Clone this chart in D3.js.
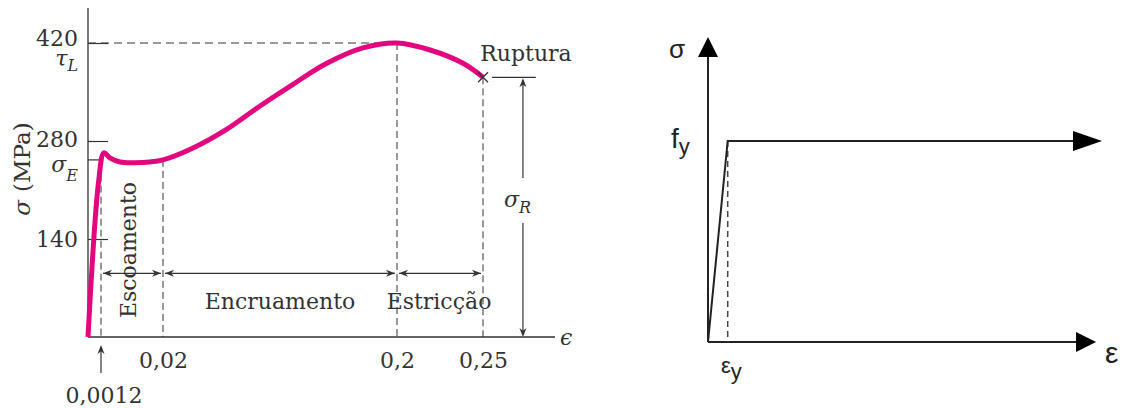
<!DOCTYPE html>
<html>
<head>
<meta charset="utf-8">
<script src="https://cdn.jsdelivr.net/npm/d3@7"></script>
<style>
  html, body { margin: 0; padding: 0; background: #fff; }
  svg { display: block; }
</style>
</head>
<body>
<svg id="chart" width="1126" height="408"></svg>
<script>
// ---- Left panel: engineering stress–strain curve of a ductile steel ----
// strain (mm/mm) and stress (MPa) along the curve
const strain = [0, 0.0010, 0.0021, 0.0039, 0.0070, 0.0115, 0.0160, 0.02, 0.0431, 0.0692, 0.0946, 0.120, 0.146, 0.1738, 0.2, 0.2192, 0.2384, 0.25];
const stress = [0, 225, 263, 256, 250, 249, 250, 253, 270, 297, 330, 361, 391, 413, 420, 410, 391, 371];

const yTicks = [140, 280, 420];
const xTicks = [0.02, 0.2, 0.25];
const xTickLabels = ["0,02", "0,2", "0,25"];
const yieldStrain = 0.0012, yieldStrainLabel = "0,0012";
const sigmaE = 253;     // yield stress
const tauL = 420;       // ultimate stress
const sigmaR = 371;     // rupture stress
const stageBounds = [0.0012, 0.02, 0.2, 0.25];
const stageNames = ["Escoamento", "Encruamento", "Estricção"];

// ---- Right panel: idealised elastic–perfectly plastic model ----
const modelStrain = [0, 1, 20];
const modelStress = [0, 1, 1];
const epsY = 1, fy = 1;

const svg = d3.select("#chart");
const ink = "#333";
const serif = "DejaVu Serif, serif";
const sans = "Liberation Sans, Arial, sans-serif";

// The strain axis is schematic: each region gets its own stretch.
const xL = d3.scaleLinear()
  .domain([0, 0.0012, 0.02, 0.2, 0.25, 0.292])
  .range([88, 101, 163, 397, 483, 555]);
const yL = d3.scaleLinear().domain([0, 470]).range([337, 8]);

const left = svg.append("g");

// arrowhead helper (notched head), tip at (x,y), angle in degrees
function head(g, x, y, angle, len = 9, half = 3.5, fill = ink) {
  g.append("path")
    .attr("d", `M0,0 L${-len},${-half} L${-len * 0.7},0 L${-len},${half} Z`)
    .attr("transform", `translate(${x},${y}) rotate(${angle})`)
    .attr("fill", fill);
}

// dashed guides
const dash = "7,4";
left.append("line")
  .attr("x1", xL(0)).attr("x2", xL(0.2))
  .attr("y1", yL(tauL)).attr("y2", yL(tauL))
  .attr("stroke", ink).attr("stroke-width", 1).attr("stroke-dasharray", "8,5");

const stressAt = s => {
  const i = d3.bisectLeft(strain, s);
  if (strain[i] === s) return stress[i];
  const t = (s - strain[i - 1]) / (strain[i] - strain[i - 1]);
  return stress[i - 1] + t * (stress[i] - stress[i - 1]);
};
left.selectAll("line.guide")
  .data(stageBounds)
  .join("line")
  .attr("class", "guide")
  .attr("x1", d => xL(d)).attr("x2", d => xL(d))
  .attr("y1", d => yL(stressAt(d))).attr("y2", yL(0))
  .attr("stroke", ink).attr("stroke-width", 1).attr("stroke-dasharray", dash);

// y axis with inward ticks
const yAxis = d3.axisLeft(yL).tickValues(yTicks).tickSize(-20).tickSizeOuter(0).tickPadding(10);
const gy = left.append("g").attr("transform", `translate(${xL(0)},0)`).call(yAxis);
gy.select(".domain").remove();
gy.selectAll(".tick line").attr("stroke", ink).attr("stroke-width", 1.2);
gy.selectAll(".tick text").attr("font-family", serif).attr("font-size", 22).attr("fill", ink);

// stacked symbols under the 420 and 280 labels: tau_L (ultimate) and sigma_E (yield)
const symbolFor = { 420: ["τ", "L", 5], 280: ["σ", "E", 9] };
gy.selectAll(".tick text").each(function (d) {
  const s = symbolFor[d];
  if (!s) return;
  const t = d3.select(this);
  t.attr("dy", d === 420 ? "0.12em" : "0.25em");
  const base = d === 420 ? yL(tauL) + 22 - (yL(d) + 2.6) : yL(sigmaE) + 12 - (yL(d) + 5.5);
  t.append("tspan").attr("x", -10).attr("dy", base)
    .attr("font-style", "italic").attr("font-size", 22).text(s[0]);
  t.append("tspan").attr("dy", s[2])
    .attr("font-style", "italic").attr("font-size", 16).text(s[1]);
});

// x axis tick labels
const xAxis = d3.axisBottom(xL).tickValues(xTicks).tickFormat((d, i) => xTickLabels[i])
  .tickSize(0).tickSizeOuter(0).tickPadding(15);
const gx = left.append("g").attr("transform", `translate(0,${yL(0)})`).call(xAxis);
gx.select(".domain").remove();
gx.selectAll(".tick text").attr("font-family", serif).attr("font-size", 22).attr("fill", ink);

// axis lines
left.append("line").attr("x1", xL(0)).attr("x2", xL(0)).attr("y1", yL(0)).attr("y2", yL(470))
  .attr("stroke", ink).attr("stroke-width", 1.3);
left.append("line").attr("x1", xL(0)).attr("x2", xL(0.292)).attr("y1", yL(0)).attr("y2", yL(0))
  .attr("stroke", ink).attr("stroke-width", 1.3);

// yield stress tick
left.append("line").attr("x1", xL(0)).attr("x2", xL(0.0012))
  .attr("y1", yL(sigmaE)).attr("y2", yL(sigmaE))
  .attr("stroke", ink).attr("stroke-width", 1.2);

// y axis title
const yt = left.append("text")
  .attr("transform", `translate(30,${yL(240)}) rotate(-90)`)
  .attr("text-anchor", "middle").attr("font-family", serif).attr("font-size", 23).attr("fill", ink);
yt.append("tspan").attr("font-style", "italic").text("σ");
yt.append("tspan").attr("dx", 8).text("(MPa)");

// x axis symbol
left.append("text").attr("x", xL(0.292) + 5).attr("y", yL(0) + 8)
  .attr("font-family", serif).attr("font-size", 22).attr("font-style", "italic").attr("fill", ink)
  .text("ϵ");

// yield strain marker
left.append("line").attr("x1", xL(yieldStrain)).attr("x2", xL(yieldStrain))
  .attr("y1", yL(0) + 36).attr("y2", yL(0) + 10)
  .attr("stroke", ink).attr("stroke-width", 1.2);
head(left, xL(yieldStrain), yL(0) + 8, -90);
left.append("text").attr("x", xL(yieldStrain) + 3).attr("y", yL(0) + 66)
  .attr("text-anchor", "middle").attr("font-family", serif).attr("font-size", 22).attr("fill", ink)
  .text(yieldStrainLabel);

// stage dimension arrows
const stageY = yL(91);
stageNames.forEach((name, i) => {
  const a = xL(stageBounds[i]) + 2, b = xL(stageBounds[i + 1]) - 2;
  left.append("line").attr("x1", a).attr("x2", b).attr("y1", stageY).attr("y2", stageY)
    .attr("stroke", ink).attr("stroke-width", 1.2);
  head(left, a, stageY, 180);
  head(left, b, stageY, 0);
});
left.append("text")
  .attr("transform", `translate(136,250) rotate(-90)`)
  .attr("text-anchor", "middle").attr("font-family", serif).attr("font-size", 22).attr("fill", ink)
  .text(stageNames[0]);
left.append("text").attr("x", (xL(stageBounds[1]) + xL(stageBounds[2])) / 2).attr("y", 309)
  .attr("text-anchor", "middle").attr("font-family", serif).attr("font-size", 22).attr("fill", ink)
  .text(stageNames[1]);
left.append("text").attr("x", (xL(stageBounds[2]) + xL(stageBounds[3])) / 2 - 1).attr("y", 309)
  .attr("text-anchor", "middle").attr("font-family", serif).attr("font-size", 22).attr("fill", ink)
  .text(stageNames[2]);

// rupture stress dimension
const rx = xL(0.2733);
left.append("line").attr("x1", xL(0.2553)).attr("x2", xL(0.2808))
  .attr("y1", yL(sigmaR)).attr("y2", yL(sigmaR))
  .attr("stroke", ink).attr("stroke-width", 1.2);
left.append("line").attr("x1", rx).attr("x2", rx).attr("y1", yL(sigmaR) + 3).attr("y2", 178)
  .attr("stroke", ink).attr("stroke-width", 1.2);
left.append("line").attr("x1", rx).attr("x2", rx).attr("y1", 223).attr("y2", yL(0) - 3)
  .attr("stroke", ink).attr("stroke-width", 1.2);
head(left, rx, yL(sigmaR) + 1, -90);
head(left, rx, yL(0), 90);
const sr = left.append("text").attr("x", 504).attr("y", 207)
  .attr("font-family", serif).attr("fill", ink);
sr.append("tspan").attr("font-size", 22).attr("font-style", "italic").text("σ");
sr.append("tspan").attr("font-size", 16).attr("font-style", "italic").attr("dy", 6).text("R");

left.append("text").attr("x", 526).attr("y", 61)
  .attr("text-anchor", "middle").attr("font-family", serif).attr("font-size", 22).attr("fill", ink)
  .text("Ruptura");

// the curve
const pts = strain.map((s, i) => [s, stress[i]]);
left.append("path")
  .attr("d", d3.line().x(d => xL(d[0])).y(d => yL(d[1])).curve(d3.curveCatmullRom.alpha(0.5))(pts))
  .attr("fill", "none").attr("stroke", "#e2067f").attr("stroke-width", 5)
  .attr("stroke-linecap", "butt").attr("stroke-linejoin", "round");

// rupture mark
const ux = xL(strain[strain.length - 1]), uy = yL(stress[stress.length - 1]);
left.append("path")
  .attr("d", `M${ux - 5},${uy - 5}L${ux + 5},${uy + 5}M${ux - 5},${uy + 5}L${ux + 5},${uy - 5}`)
  .attr("stroke", ink).attr("stroke-width", 1.3);

// ---- Right panel ----
const xR = d3.scaleLinear().domain([0, 20]).range([708, 1102]);
const yR = d3.scaleLinear().domain([0, 1]).range([342, 141]);
const right = svg.append("g");
const rInk = "#222";

function tri(g, x, y, angle, len, half) {
  g.append("path")
    .attr("d", `M0,0 L${-len},${-half} L${-len},${half} Z`)
    .attr("transform", `translate(${x},${y}) rotate(${angle})`)
    .attr("fill", "#000");
}

// axes
right.append("line").attr("x1", xR(0)).attr("x2", xR(0)).attr("y1", yR(0)).attr("y2", yR(1.45))
  .attr("stroke", rInk).attr("stroke-width", 2);
right.append("line").attr("x1", xR(0)).attr("x2", xR(19.3)).attr("y1", yR(0)).attr("y2", yR(0))
  .attr("stroke", rInk).attr("stroke-width", 2);
tri(right, xR(0), yR(1.518), -90, 20, 10);
tri(right, xR(19.7), yR(0), 0, 20, 10);

// yield strain guide
right.append("line").attr("x1", xR(epsY)).attr("x2", xR(epsY)).attr("y1", yR(fy)).attr("y2", yR(0))
  .attr("stroke", "#444").attr("stroke-width", 1.5).attr("stroke-dasharray", "6,4");

// model law
const mpts = modelStrain.map((s, i) => [s, modelStress[i]]);
right.append("path")
  .attr("d", d3.line().x(d => xR(d[0])).y(d => yR(d[1]))(mpts.slice(0, 2).concat([[19, 1]])))
  .attr("fill", "none").attr("stroke", rInk).attr("stroke-width", 2).attr("stroke-linejoin", "miter");
tri(right, xR(modelStrain[2]), yR(modelStress[2]), 0, 29, 10);

// labels
right.append("text").attr("x", 669).attr("y", 58)
  .attr("font-family", sans).attr("font-size", 26).attr("fill", rInk).text("σ");
const fyl = right.append("text").attr("x", 671).attr("y", 148)
  .attr("font-family", sans).attr("fill", rInk);
fyl.append("tspan").attr("font-size", 28).text("f");
fyl.append("tspan").attr("font-size", 22).attr("dy", 6).text("y");
const eyl = right.append("text").attr("x", 721).attr("y", 373)
  .attr("font-family", sans).attr("fill", rInk);
eyl.append("tspan").attr("font-size", 22).text("ε");
eyl.append("tspan").attr("font-size", 22).attr("dy", 6).text("y");
right.append("text").attr("x", 1105).attr("y", 363)
  .attr("font-family", sans).attr("font-size", 30).attr("fill", rInk).text("ε");
</script>
</body>
</html>
